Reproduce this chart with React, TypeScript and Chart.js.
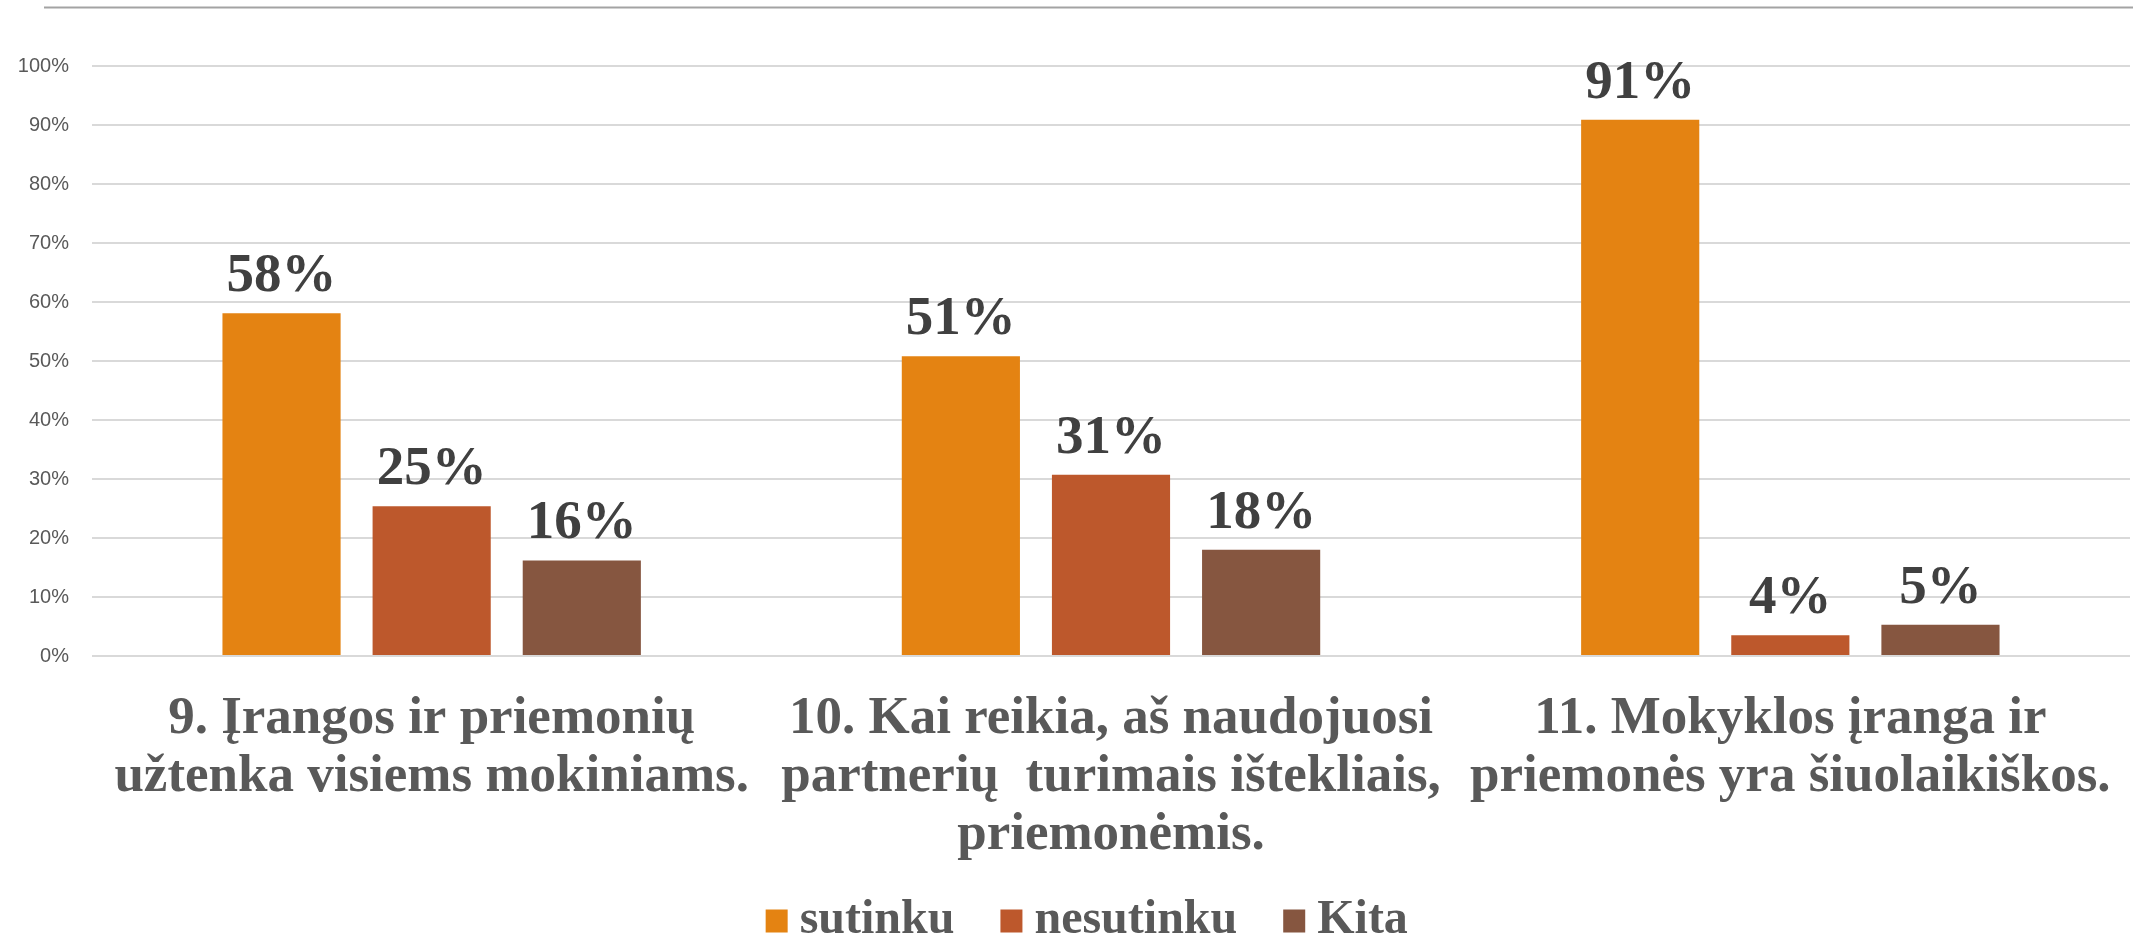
import React, { useEffect, useRef } from "react";
import { Chart, registerables } from "chart.js";

Chart.register(...registerables);

const categories: string[][] = [
  ["9. Įrangos ir priemonių", "užtenka visiems mokiniams."],
  ["10. Kai reikia, aš naudojuosi", "partnerių  turimais ištekliais,", "priemonėmis."],
  ["11. Mokyklos įranga ir", "priemonės yra šiuolaikiškos."],
];
const seriesNames = ["sutinku", "nesutinku", "Kita"];
const sutinku = [58.1, 50.8, 90.9];
const nesutinku = [25.4, 30.7, 3.5];
const kita = [16.2, 18.0, 5.3];
const seriesColors = ["#E48312", "#BD582C", "#865640"];
const yTickLabels = ["0%", "10%", "20%", "30%", "40%", "50%", "60%", "70%", "80%", "90%", "100%"];

const SERIF = "'Liberation Serif', 'Times New Roman', serif";

const W = 2133;
const H = 940;

const topLinePlugin = {
  id: "topLine",
  beforeDraw(chart: any) {
    const ctx = chart.ctx;
    ctx.save();
    ctx.strokeStyle = "#a3a3a3";
    ctx.lineWidth = 2;
    ctx.beginPath();
    ctx.moveTo(44, 7.5);
    ctx.lineTo(chart.width, 7.5);
    ctx.stroke();
    ctx.restore();
  },
};

const valueLabelPlugin = {
  id: "valueLabels",
  afterDatasetsDraw(chart: any) {
    const ctx = chart.ctx;
    ctx.save();
    ctx.font = `bold 55px ${SERIF}`;
    ctx.fillStyle = "#404040";
    ctx.textAlign = "center";
    ctx.textBaseline = "alphabetic";
    chart.data.datasets.forEach((ds: any, di: number) => {
      const meta = chart.getDatasetMeta(di);
      meta.data.forEach((bar: any, i: number) => {
        const v = ds.data[i] as number;
        ctx.fillText(Math.round(v) + "%", bar.x, bar.y - 22);
      });
    });
    ctx.restore();
  },
};

// Legend drawn from the datasets' own labels and colours
const legendPlugin = {
  id: "customLegend",
  afterDraw(chart: any) {
    const ctx = chart.ctx;
    const boxW = 22;
    const boxH = 23;
    const gapText = 12;
    const gapItem = 46;
    const cy = 921;
    ctx.save();
    ctx.font = `bold 48px ${SERIF}`;
    const items = chart.data.datasets.map((ds: any) => ({
      text: ds.label as string,
      color: ds.backgroundColor as string,
      w: ctx.measureText(ds.label).width,
    }));
    const total =
      items.reduce((s: number, it: any) => s + boxW + gapText + it.w, 0) + gapItem * (items.length - 1);
    let x = chart.width * 0.5095 - total / 2;
    ctx.textBaseline = "middle";
    ctx.textAlign = "left";
    items.forEach((it: any) => {
      ctx.fillStyle = it.color;
      ctx.fillRect(x, cy - boxH / 2, boxW, boxH);
      x += boxW + gapText;
      ctx.fillStyle = "#595959";
      ctx.fillText(it.text, x, cy);
      x += it.w + gapItem;
    });
    ctx.restore();
  },
};

export default function App() {
  const canvasRef = useRef<HTMLCanvasElement | null>(null);

  useEffect(() => {
    document.body.style.margin = "0";
    const canvas = canvasRef.current;
    if (!canvas) return;
    const chart = new Chart(canvas, {
      type: "bar",
      data: {
        labels: categories,
        datasets: [
          { label: seriesNames[0], data: sutinku, backgroundColor: seriesColors[0] },
          { label: seriesNames[1], data: nesutinku, backgroundColor: seriesColors[1] },
          { label: seriesNames[2], data: kita, backgroundColor: seriesColors[2] },
        ],
      },
      options: {
        animation: false,
        responsive: true,
        maintainAspectRatio: false,
        devicePixelRatio: 1,
        layout: { padding: { top: 66, right: 3, left: 0, bottom: 0 } },
        datasets: {
          bar: { categoryPercentage: 0.663, barPercentage: 0.787 },
        },
        plugins: {
          tooltip: { enabled: false },
          legend: { display: false },
        },
        scales: {
          x: {
            grid: { display: false, drawTicks: false },
            border: { display: false },
            ticks: {
              padding: 34,
              color: "#595959",
              maxRotation: 0,
              autoSkip: false,
              font: { family: SERIF, size: 53, weight: "bold", lineHeight: 1.1 },
            },
            afterFit(scale: any) {
              scale.height = 284;
              scale.paddingLeft = 0;
              scale.paddingRight = 0;
            },
          },
          y: {
            min: 0,
            max: 100,
            grid: { color: "#d9d9d9", lineWidth: 2, drawTicks: false },
            border: { display: false },
            ticks: {
              stepSize: 10,
              padding: 23,
              color: "#595959",
              font: { family: "'Liberation Sans', Arial, sans-serif", size: 20 },
              callback: (_v: any, i: number) => yTickLabels[i],
            },
            afterFit(scale: any) {
              scale.width = 92;
              scale.paddingTop = 0;
              scale.paddingBottom = 0;
            },
          },
        },
      },
      plugins: [topLinePlugin, valueLabelPlugin, legendPlugin],
    });
    return () => chart.destroy();
  }, []);

  return (
    <div style={{ width: W, height: H, position: "relative", background: "#fff" }}>
      <canvas ref={canvasRef} />
    </div>
  );
}
